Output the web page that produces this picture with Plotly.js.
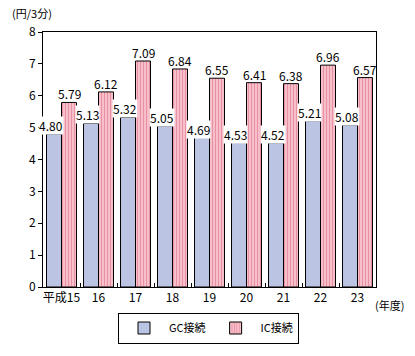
<!DOCTYPE html>
<html><head><meta charset="utf-8">
<script src="https://cdn.plot.ly/plotly-3.0.1.min.js"></script>
<style>body{margin:0;background:#fff}#c{width:415px;height:356px}</style>
</head><body><div id="c"></div>
<script>
const categories = ["平成15","16","17","18","19","20","21","22","23"];
const gcValues = [4.80,5.13,5.32,5.05,4.69,4.53,4.52,5.21,5.08];
const icValues = [5.79,6.12,7.09,6.84,6.55,6.41,6.38,6.96,6.57];
const seriesNames = ["GC接続","IC接続"];
const yUnit = "(円/3分)";
const xUnit = "(年度)";

const font = {family:"Noto Sans CJK JP, DejaVu Sans, sans-serif", size:11, color:"#000"};
const traces = [
  {type:"bar", x:categories, y:gcValues, name:seriesNames[0],
   marker:{color:"#BCC4E4", line:{color:"#000", width:1}}},
  {type:"bar", x:categories, y:icValues, name:seriesNames[1],
   marker:{color:"#F4B0BE", line:{color:"#000", width:1},
     pattern:{shape:"|", fgcolor:"#E890A4", bgcolor:"#F8C4CE", size:3, solidity:0.4}}}
];
const ann = [];
categories.forEach((c,i)=>{
  ann.push({x:i, y:gcValues[i], xref:"x", yref:"y", text:gcValues[i].toFixed(2), showarrow:false,
    yanchor:"bottom", xshift:-11, yshift:-1, bgcolor:"#fff", borderpad:0, font:{...font, size:12}});
  ann.push({x:i, y:icValues[i], xref:"x", yref:"y", text:icValues[i].toFixed(2), showarrow:false,
    yanchor:"bottom", xshift:7.5, yshift:-1, borderpad:0, font:{...font, size:12}});
});
ann.push({xref:"paper", yref:"paper", x:-0.1, y:1.075, xanchor:"left", yanchor:"middle", text:yUnit, showarrow:false, font:font});
ann.push({xref:"paper", yref:"paper", x:0.99, y:-0.03, xanchor:"left", yanchor:"top", text:xUnit, showarrow:false, font:font});

const layout = {
  width:415, height:356, margin:{l:43, r:39, t:32, b:58},
  paper_bgcolor:"#fff", plot_bgcolor:"#fff", font:font,
  barmode:"group", bargap:0.19, bargroupgap:0,
  showlegend:true,
  legend:{orientation:"h", x:0.497, xanchor:"center", y:-0.1, yanchor:"top",
    bordercolor:"#000", borderwidth:1, font:font, itemwidth:40, tracegroupgap:0},
  xaxis:{type:"category", range:[-0.5, categories.length-0.5], tickangle:0, showline:true, linecolor:"#000", linewidth:1, mirror:true, ticks:"inside", ticklen:4,
    tickson:"boundaries", tickcolor:"#000", showgrid:false, tickfont:{...font, size:12}},
  yaxis:{range:[0,8], dtick:1, showline:true, linecolor:"#000", linewidth:1, mirror:true,
    ticks:"outside", ticklen:4, tickcolor:"#000", showgrid:false, zeroline:false, tickfont:{...font, size:12}},
  annotations:ann
};
Plotly.newPlot("c", traces, layout, {displayModeBar:false, staticPlot:true});
</script></body></html>
